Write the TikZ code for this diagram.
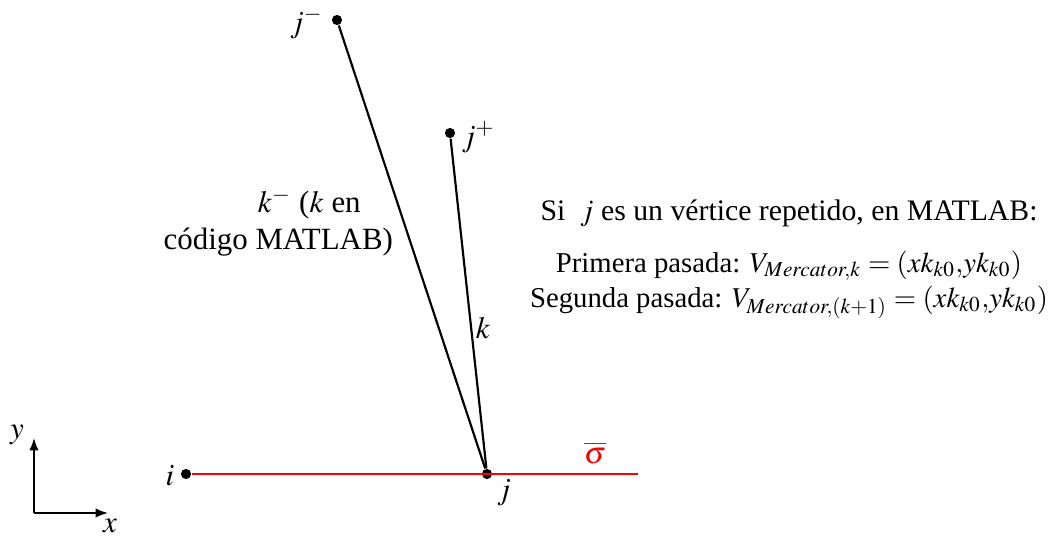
\documentclass[tikz,border=0pt]{standalone}
\usepackage{mathptmx}
\usepackage{fontspec}
\setmainfont{Liberation Serif}
\usetikzlibrary{arrows.meta}
\begin{document}
\begin{tikzpicture}[x=0.3236pt,y=-0.3236pt,
  pt/.style={circle,fill=black,inner sep=0pt,minimum size=3.3pt},
  edge/.style={line width=0.7pt,black},
  redline/.style={line width=0.7pt,red},
  axis/.style={line width=0.5pt,-{Latex[length=4pt,width=3pt]}},
  lbl/.style={inner sep=1pt}]
\useasboundingbox (0,0) rectangle (1051,538);
% points
\node[pt] (jm) at (337,20) {};
\node[pt] (jp) at (450,133) {};
\node[pt] (j) at (487,474) {};
\node[pt] (i) at (186,474) {};
\coordinate (redend) at (638,474);
% edges
\draw[redline] (i) -- (redend);
\draw[edge] (jm) -- (j);
\draw[edge] (jp) -- (j);
% point labels
\node[lbl,anchor=east] (ljm) at (327,23) {$j^{-}$};
\node[lbl,anchor=west] (ljp) at (458,137) {$j^{+}$};
\node[lbl] (lj) at (504,493) {$j$};
\node[lbl,anchor=east] (li) at (178,476) {$i$};
\node[lbl,red] (lsig) at (595,453) {$\overline{\sigma}$};
\node[lbl] (lk) at (483,328) {$k$};
% k- label
\node[lbl,align=left,anchor=west] (lkm) at (160,222) {\hspace*{30.5pt}$k^{-}$ ($k$ en\\código MATLAB)};
% right text
\node[lbl,align=center,font=\fontsize{9.3}{11.3}\selectfont] (info) at (789,259) {{\fontsize{9.63}{11.3}\selectfont Si\ \ $j$ es un vértice repetido, en MATLAB:}\\[5.5pt]
Primera pasada: $V_{Mercator,k}=(xk_{k0}{,}yk_{k0})$\\
Segunda pasada: $V_{Mercator,(k+1)}=(xk_{k0}{,}yk_{k0})$};
% axes
\coordinate (O) at (34,513);
\coordinate (Xe) at (108,513);
\coordinate (Ye) at (34,438);
\draw[axis] (O) -- (Xe);
\draw[axis] (O) -- (Ye);
\node[lbl] (lx) at (110,526) {$x$};
\node[lbl] (ly) at (17,435) {$y$};
\end{tikzpicture}
\end{document}
